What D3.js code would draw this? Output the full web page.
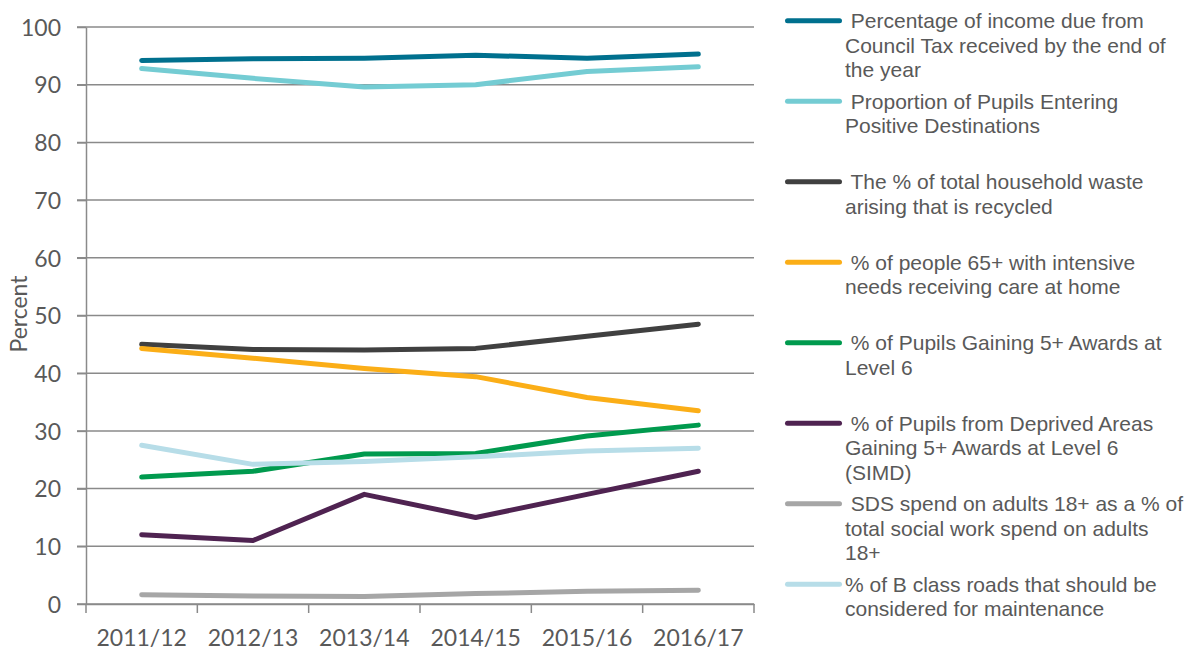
<!DOCTYPE html>
<html>
<head>
<meta charset="utf-8">
<script src="https://cdn.jsdelivr.net/npm/d3@7"></script>
<style>
  html, body { margin: 0; padding: 0; background: #ffffff; }
  svg { display: block; }
</style>
</head>
<body>
<svg id="chart" width="1194" height="650"></svg>
<script>
const categories = ["2011/12", "2012/13", "2013/14", "2014/15", "2015/16", "2016/17"];
const yTicks = [0, 10, 20, 30, 40, 50, 60, 70, 80, 90, 100];

const councilTax      = [94.2, 94.5, 94.6, 95.1, 94.6, 95.3];
const positiveDest    = [92.8, 91.1, 89.6, 90.0, 92.3, 93.1];
const wasteRecycled   = [45.0, 44.1, 44.0, 44.3, 46.4, 48.5];
const careAtHome      = [44.3, 42.6, 40.8, 39.4, 35.8, 33.5];
const level6          = [22.0, 23.0, 26.0, 26.1, 29.1, 31.0];
const level6Simd      = [12.0, 11.0, 19.0, 15.0, 19.0, 23.0];
const sdsSpend        = [1.6, 1.4, 1.3, 1.8, 2.2, 2.4];
const bClassRoads     = [27.5, 24.2, 24.7, 25.5, 26.5, 27.0];

const seriesNames = [
  [" Percentage of income due from", "Council Tax received by the end of", "the year"],
  [" Proportion of Pupils Entering", "Positive Destinations"],
  [" The % of total household waste", "arising that is recycled"],
  [" % of people 65+ with intensive", "needs receiving care at home"],
  [" % of Pupils Gaining 5+ Awards at", "Level 6"],
  [" % of Pupils from Deprived Areas", "Gaining 5+ Awards at Level 6", "(SIMD)"],
  [" SDS spend on adults 18+ as a % of", "total social work spend on adults", "18+"],
  ["% of B class roads that should be", "considered for maintenance"]
];
const seriesValues = [councilTax, positiveDest, wasteRecycled, careAtHome, level6, level6Simd, sdsSpend, bClassRoads];
const seriesColors = ["#00708e", "#74ccd3", "#404040", "#fbae17", "#009a4e", "#4f2351", "#a6a6a6", "#b7dde8"];

const svg = d3.select("#chart");
const plotLeft = 86, plotRight = 754, plotTop = 27, plotBottom = 604;
const axisColor = "#8a8a8a";
const textColor = "#595959";

const x = d3.scaleBand().domain(categories).range([plotLeft, plotRight]).padding(0);
const y = d3.scaleLinear().domain([0, 100]).range([plotBottom, plotTop]);

// gridlines
svg.append("g")
  .selectAll("line")
  .data(yTicks)
  .join("line")
  .attr("x1", plotLeft - 9).attr("x2", plotRight)
  .attr("y1", d => y(d)).attr("y2", d => y(d))
  .attr("stroke", axisColor).attr("stroke-width", 1.5);

// y axis
const yAxis = svg.append("g")
  .attr("transform", `translate(${plotLeft},0)`)
  .call(d3.axisLeft(y).tickValues(yTicks).tickSize(9).tickSizeOuter(0).tickPadding(16));
yAxis.select(".domain").attr("stroke", axisColor).attr("stroke-width", 1.5);
yAxis.selectAll(".tick line").attr("stroke", axisColor).attr("stroke-width", 1.5);
yAxis.selectAll(".tick text")
  .attr("fill", textColor)
  .attr("font-family", "Lato, 'Open Sans', sans-serif")
  .attr("font-size", 23)
  .attr("dy", "0.36em");

// x axis
const xAxis = svg.append("g")
  .attr("transform", `translate(0,${plotBottom})`)
  .call(d3.axisBottom(x).tickSize(0).tickSizeOuter(0));
xAxis.select(".domain").attr("stroke", axisColor).attr("stroke-width", 1.5);
xAxis.selectAll(".tick text")
  .attr("fill", textColor)
  .attr("font-family", "Lato, 'Open Sans', sans-serif")
  .attr("font-size", 23)
  .attr("y", 42)
  .attr("dy", 0);
const boundaries = categories.map(c => x(c)).concat([x.range()[1]]);
xAxis.append("g")
  .selectAll("line")
  .data(boundaries)
  .join("line")
  .attr("x1", d => d).attr("x2", d => d)
  .attr("y1", 0).attr("y2", 9)
  .attr("stroke", axisColor).attr("stroke-width", 1.5);

// y axis title
svg.append("text")
  .attr("transform", "translate(27,314) rotate(-90)")
  .attr("text-anchor", "middle")
  .attr("fill", textColor)
  .attr("font-family", "Lato, 'Open Sans', sans-serif")
  .attr("font-size", 23)
  .text("Percent");

// lines
const line = d3.line()
  .x((d, i) => x(categories[i]) + x.bandwidth() / 2)
  .y(d => y(d));

svg.append("g")
  .selectAll("path")
  .data(seriesValues)
  .join("path")
  .attr("d", d => line(d))
  .attr("fill", "none")
  .attr("stroke", (d, i) => seriesColors[i])
  .attr("stroke-width", 5)
  .attr("stroke-linecap", "round")
  .attr("stroke-linejoin", "round");

// legend
const legend = svg.append("g");
const entry = legend.selectAll("g")
  .data(seriesNames)
  .join("g")
  .attr("transform", (d, i) => `translate(0,${20.7 + 80.5 * i})`);
entry.append("line")
  .attr("x1", 787.5).attr("x2", 839.5)
  .attr("y1", 0).attr("y2", 0)
  .attr("stroke", (d, i) => seriesColors[i])
  .attr("stroke-width", 5)
  .attr("stroke-linecap", "round");
entry.append("text")
  .attr("fill", textColor)
  .attr("font-family", "'Liberation Sans', Arial, sans-serif")
  .attr("font-size", 21)
  .style("white-space", "pre")
  .selectAll("tspan")
  .data(d => d)
  .join("tspan")
  .attr("x", 845)
  .attr("y", (d, j) => 7.6 + 24.5 * j)
  .text(d => d);
</script>
</body>
</html>
